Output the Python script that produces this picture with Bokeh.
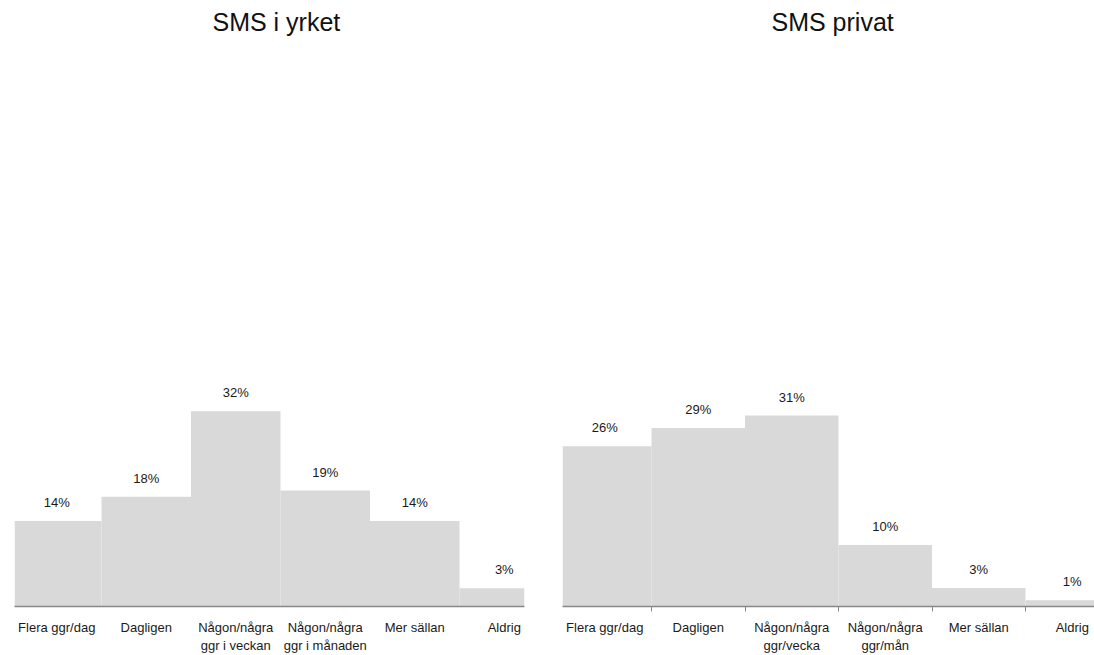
from bokeh.plotting import figure
from bokeh.layouts import row
from bokeh.models import FixedTicker, ColumnDataSource, Range1d
from bokeh.core.properties import value
from bokeh.embed import file_html
from bokeh.resources import INLINE

titles = ["SMS i yrket", "SMS privat"]
categories_yrket = ["Flera ggr/dag", "Dagligen", "Någon/några\nggr i veckan",
                    "Någon/några\nggr i månaden", "Mer sällan", "Aldrig"]
values_yrket = [14, 18, 32, 19, 14, 3]
categories_privat = ["Flera ggr/dag", "Dagligen", "Någon/några\nggr/vecka",
                     "Någon/några\nggr/mån", "Mer sällan", "Aldrig"]
values_privat = [26, 29, 31, 10, 3, 1]

FONT = "Liberation Sans"
BAR = "#d9d9d9"
TXT = "#1a1a1a"


def panel(title, cats, vals, width, xr, y_end, bl, br, show_ticks, title_off):
    xs = list(range(len(cats)))
    src = ColumnDataSource(dict(x=xs, top=vals, label=[f"{v}%" for v in vals]))
    p = figure(width=width, height=655, x_range=Range1d(*xr), y_range=Range1d(0, y_end),
               output_backend="svg", toolbar_location=None, y_axis_location=None,
               min_border_left=bl, min_border_right=br, min_border_top=0,
               min_border_bottom=0, title=title)
    p.vbar(x="x", top="top", bottom=0, width=1.0, source=src,
           fill_color=BAR, line_color=None)
    p.text(x="x", y="top", text="label", source=src, text_align="center",
           text_baseline="bottom", y_offset=-11, text_font=value(FONT),
           text_font_size="13px", text_color=TXT)
    p.title.align = "left"
    p.title.offset = title_off
    p.title.text_font = FONT
    p.title.text_font_size = "25px"
    p.title.text_font_style = "normal"
    p.title.text_color = "#111111"
    p.xgrid.visible = False
    p.ygrid.visible = False
    p.outline_line_color = None
    ax = p.xaxis[0]
    ax.ticker = FixedTicker(ticks=xs, minor_ticks=[i + 0.5 for i in range(len(cats) - 1)])
    ax.major_label_overrides = {i: c for i, c in enumerate(cats)}
    ax.major_tick_line_color = None
    ax.major_tick_out = 0
    ax.major_tick_in = 0
    ax.minor_tick_line_color = "#888888" if show_ticks else None
    ax.minor_tick_out = 5
    ax.minor_tick_in = 0
    ax.axis_line_color = "#888888"
    ax.axis_line_width = 1.5
    ax.major_label_standoff = 8
    ax.major_label_text_font = FONT
    ax.major_label_text_font_size = "13px"
    ax.major_label_text_color = TXT
    return p


left = panel(titles[0], categories_yrket, values_yrket, 540, (-0.472, 5.226), 92.8, 14, 16, False, 198)
right = panel(titles[1], categories_privat, values_privat, 554, (-0.452, 5.238), 91.9, 22, 0, True, 209)

layout = row(left, right)
open("out.html", "w").write(file_html(layout, INLINE))
